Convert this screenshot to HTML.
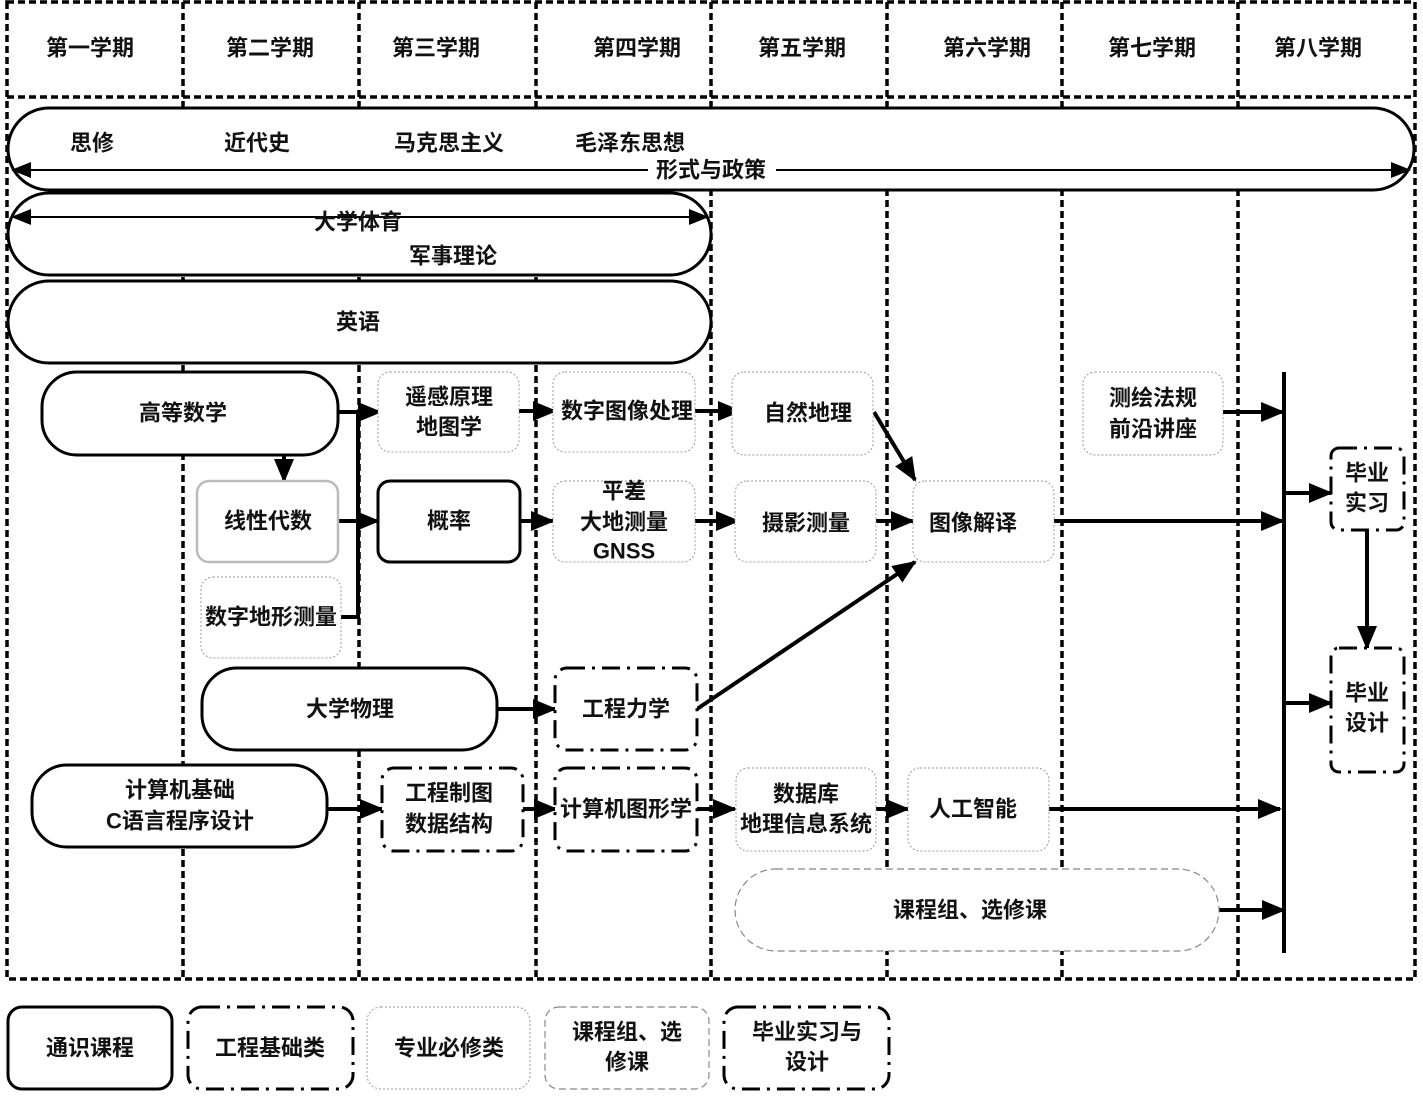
<!DOCTYPE html>
<html><head><meta charset="utf-8"><style>
html,body{margin:0;padding:0;background:#fff;}
svg{display:block;}
text{font-family:"Liberation Sans","Noto Sans CJK SC",sans-serif;font-size:22px;font-weight:bold;fill:#111;text-anchor:middle;dominant-baseline:central;}
.g{fill:none;stroke:#000;stroke-width:3.5;stroke-dasharray:7 4;}
.thick{fill:#fff;stroke:#000;stroke-width:3;}
.thin{fill:#fff;stroke:#999;stroke-width:1;stroke-dasharray:2 2;}
.gray{fill:#fff;stroke:#bbb;stroke-width:2.5;}
.dd{fill:#fff;stroke:#000;stroke-width:3;stroke-dasharray:18 7 3 7;}
.dash{fill:#fff;stroke:#888;stroke-width:1.2;stroke-dasharray:7 4;}
.a{stroke:#000;stroke-width:4;fill:none;marker-end:url(#ar);}
.l{stroke:#000;stroke-width:4;fill:none;}
</style></head><body>
<svg width="1423" height="1101" viewBox="0 0 1423 1101" xmlns="http://www.w3.org/2000/svg">
<defs>
<marker id="ar" markerWidth="6" markerHeight="5" refX="5.5" refY="2.5" orient="auto" markerUnits="strokeWidth"><path d="M0,0 L6,2.5 L0,5 z" fill="#000"/></marker>
<marker id="as" markerWidth="10" markerHeight="8" refX="9.5" refY="4" orient="auto-start-reverse" markerUnits="strokeWidth"><path d="M0,0 L10,4 L0,8 z" fill="#000"/></marker>
</defs>
<rect x="7" y="2" width="1408" height="977" class="g"/>
<line x1="7" y1="97" x2="1415" y2="97" class="g"/>
<g class="g">
<line x1="183" y1="2" x2="183" y2="979"/><line x1="359" y1="2" x2="359" y2="979"/>
<line x1="536" y1="2" x2="536" y2="979"/><line x1="711" y1="2" x2="711" y2="979"/>
<line x1="887" y1="2" x2="887" y2="979"/><line x1="1062" y1="2" x2="1062" y2="979"/>
<line x1="1238" y1="2" x2="1238" y2="979"/>
</g>
<text x="90" y="48">第一学期</text><text x="270" y="48">第二学期</text><text x="436" y="48">第三学期</text><text x="637" y="48">第四学期</text>
<text x="802" y="48">第五学期</text><text x="987" y="48">第六学期</text><text x="1152" y="48">第七学期</text><text x="1318" y="48">第八学期</text>

<rect x="8" y="108" width="1406" height="82" rx="41" class="thick"/>
<text x="92" y="143">思修</text><text x="257" y="143">近代史</text><text x="449" y="143">马克思主义</text><text x="630" y="143">毛泽东思想</text>
<line x1="12" y1="170" x2="648" y2="170" stroke="#000" stroke-width="2" marker-start="url(#as)"/>
<line x1="776" y1="170" x2="1410" y2="170" stroke="#000" stroke-width="2" marker-end="url(#as)"/>
<text x="711" y="170">形式与政策</text>
<rect x="8" y="193" width="703" height="82" rx="41" class="thick"/>
<line x1="12" y1="217" x2="708" y2="217" stroke="#000" stroke-width="2" marker-start="url(#as)" marker-end="url(#as)"/>
<text x="358" y="222">大学体育</text><text x="453" y="256">军事理论</text>
<rect x="8" y="281" width="703" height="82" rx="41" class="thick"/>
<text x="358" y="322">英语</text>

<line x1="358" y1="412" x2="358" y2="619" class="l"/>
<line x1="338" y1="412" x2="380" y2="412" class="a"/>
<line x1="338" y1="521" x2="378" y2="521" class="a"/>
<line x1="341" y1="617" x2="360" y2="617" class="l"/>
<line x1="284" y1="455" x2="284" y2="481" class="a"/>
<line x1="327" y1="809" x2="382" y2="809" class="a"/>
<line x1="519" y1="411" x2="555" y2="411" class="a"/>
<line x1="520" y1="521" x2="553" y2="521" class="a"/>
<line x1="497" y1="709" x2="555" y2="709" class="a"/>
<line x1="523" y1="809" x2="556" y2="809" class="a"/>
<line x1="695" y1="411" x2="740" y2="411" class="a"/>
<line x1="695" y1="521" x2="738" y2="521" class="a"/>
<line x1="697" y1="809" x2="735" y2="809" class="a"/>
<line x1="874" y1="412" x2="915" y2="480" class="a"/>
<line x1="876" y1="521" x2="913" y2="521" class="a"/>
<line x1="697" y1="709" x2="915" y2="562" class="a"/>
<line x1="876" y1="809" x2="908" y2="809" class="a"/>
<line x1="1284" y1="372" x2="1284" y2="953" class="l"/>
<line x1="1223" y1="412" x2="1283" y2="412" class="a"/>
<line x1="1054" y1="521" x2="1283" y2="521" class="a"/>
<line x1="1049" y1="809" x2="1280" y2="809" class="a"/>
<line x1="1219" y1="910" x2="1284" y2="910" class="a"/>
<line x1="1285" y1="493" x2="1331" y2="493" class="a"/>
<line x1="1285" y1="703" x2="1331" y2="703" class="a"/>
<line x1="1367" y1="530" x2="1367" y2="648" class="a"/>

<rect x="42" y="372" width="296" height="83" rx="35" class="thick"/><text x="183" y="413">高等数学</text>
<rect x="197" y="481" width="141" height="81" rx="12" class="gray"/><text x="268" y="521">线性代数</text>
<rect x="201" y="577" width="140" height="81" rx="12" class="thin"/><text x="271" y="617">数字地形测量</text>
<rect x="202" y="668" width="295" height="82" rx="35" class="thick"/><text x="350" y="709">大学物理</text>
<rect x="32" y="765" width="295" height="82" rx="35" class="thick"/><text x="180" y="790">计算机基础</text><text x="180" y="821">C语言程序设计</text>
<rect x="378" y="372" width="141" height="80" rx="12" class="thin"/><text x="449" y="397">遥感原理</text><text x="449" y="427">地图学</text>
<rect x="378" y="481" width="142" height="81" rx="12" class="thick"/><text x="449" y="521">概率</text>
<rect x="382" y="768" width="141" height="83" rx="12" class="dd"/><text x="449" y="793">工程制图</text><text x="449" y="824">数据结构</text>
<rect x="553" y="372" width="142" height="80" rx="12" class="thin"/><text x="627" y="411">数字图像处理</text>
<rect x="553" y="481" width="142" height="81" rx="12" class="thin"/><text x="624" y="491">平差</text><text x="624" y="522">大地测量</text><text x="624" y="551">GNSS</text>
<rect x="555" y="668" width="142" height="82" rx="12" class="dd"/><text x="626" y="709">工程力学</text>
<rect x="555" y="768" width="142" height="83" rx="12" class="dd"/><text x="626" y="809">计算机图形学</text>
<rect x="732" y="372" width="141" height="83" rx="12" class="thin"/><text x="808" y="413">自然地理</text>
<rect x="735" y="481" width="141" height="81" rx="12" class="thin"/><text x="806" y="523">摄影测量</text>
<rect x="736" y="768" width="140" height="83" rx="12" class="thin"/><text x="806" y="794">数据库</text><text x="806" y="824">地理信息系统</text>
<rect x="913" y="481" width="141" height="81" rx="12" class="thin"/><text x="973" y="523">图像解译</text>
<rect x="908" y="768" width="141" height="83" rx="12" class="thin"/><text x="973" y="809">人工智能</text>
<rect x="735" y="869" width="484" height="82" rx="41" class="dash"/><text x="970" y="910">课程组、选修课</text>
<rect x="1083" y="372" width="140" height="83" rx="12" class="thin"/><text x="1153" y="398">测绘法规</text><text x="1153" y="429">前沿讲座</text>
<rect x="1331" y="448" width="73" height="82" rx="8" class="dd"/><text x="1367" y="473">毕业</text><text x="1367" y="503">实习</text>
<rect x="1331" y="648" width="73" height="124" rx="8" class="dd"/><text x="1367" y="693">毕业</text><text x="1367" y="723">设计</text>

<rect x="8" y="1007" width="164" height="82" rx="14" class="thick"/><text x="90" y="1048">通识课程</text>
<rect x="188" y="1007" width="165" height="82" rx="14" class="dd"/><text x="270" y="1048">工程基础类</text>
<rect x="367" y="1007" width="163" height="82" rx="14" class="thin"/><text x="449" y="1048">专业必修类</text>
<rect x="545" y="1007" width="164" height="82" rx="14" class="dash"/><text x="627" y="1032">课程组、选</text><text x="627" y="1062">修课</text>
<rect x="724" y="1007" width="165" height="82" rx="14" class="dd"/><text x="807" y="1032">毕业实习与</text><text x="807" y="1062">设计</text>
</svg>
</body></html>
